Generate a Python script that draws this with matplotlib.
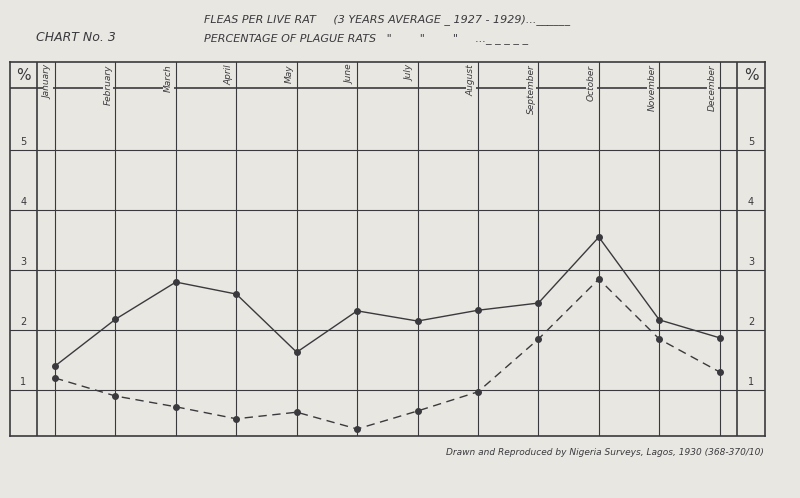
import matplotlib.pyplot as plt

months = ["January", "February", "March", "April", "May", "June", "July",
          "August", "September", "October", "November", "December"]
fleas = [1.40, 2.18, 2.80, 2.60, 1.63, 2.32, 2.15, 2.33, 2.45, 3.55, 2.17, 1.87]
plague = [1.20, 0.90, 0.72, 0.52, 0.63, 0.35, 0.65, 0.97, 1.85, 2.85, 1.85, 1.30]
pct_ticks = [1, 2, 3, 4, 5]

paper = "#e9e7e1"
ink = "#3a3a3e"

fig = plt.figure(figsize=(8.0, 4.98), dpi=100, facecolor=paper)
# frame pixels: x 10..765, y 62..436
ax = fig.add_axes([10 / 800, 1 - 436 / 498, 755 / 800, 374 / 498])
ax.set_facecolor(paper)
xl, xr = -0.745, 11.75
ax.set_xlim(xl, xr)
ax.set_ylim(0.233, 6.47)
for s in ax.spines.values():
    s.set_color(ink)
    s.set_linewidth(1.2)
ax.set_xticks([])
ax.set_yticks([])

col_l, col_r, head = -0.30, 11.29, 6.03
ax.axvline(col_l, color=ink, lw=1.2)
ax.axvline(col_r, color=ink, lw=1.2)
ax.axhline(head, color=ink, lw=1.2)
for i in range(len(months)):
    ax.axvline(i, color=ink, lw=0.8)
    ax.text(i - 0.12, 6.43, months[i], rotation=90, ha="center", va="top",
            fontsize=6.5, style="italic", color=ink,
            bbox=dict(facecolor=paper, edgecolor="none", pad=0.5))
for v in pct_ticks:
    ax.axhline(v, color=ink, lw=0.8)
    ax.text((xl + col_l) / 2, v + 0.08, str(v), ha="center", fontsize=7, color=ink)
    ax.text((col_r + xr) / 2, v + 0.08, str(v), ha="center", fontsize=7, color=ink)
ax.text((xl + col_l) / 2, 6.25, "%", ha="center", va="center", fontsize=11, color=ink)
ax.text((col_r + xr) / 2, 6.25, "%", ha="center", va="center", fontsize=11, color=ink)

x = list(range(len(months)))
ax.plot(x, fleas, color=ink, lw=1.0, marker="o", ms=4)
ax.plot(x, plague, color=ink, lw=1.0, ls=(0, (6, 4)), marker="o", ms=4)

fig.text(0.045, 0.918, "CHART No. 3", fontsize=9, style="italic", color=ink)
fig.text(0.255, 0.955, "FLEAS PER LIVE RAT     (3 YEARS AVERAGE _ 1927 - 1929)...______",
         fontsize=8, style="italic", color=ink)
fig.text(0.255, 0.918, "PERCENTAGE OF PLAGUE RATS   \"        \"        \"     ..._ _ _ _ _",
         fontsize=8, style="italic", color=ink)
fig.text(0.955, 1 - 452 / 498, "Drawn and Reproduced by Nigeria Surveys, Lagos, 1930 (368-370/10)",
         fontsize=6.5, style="italic", color=ink, ha="right", va="center")

fig.savefig("out.png", dpi=100, facecolor=paper)
